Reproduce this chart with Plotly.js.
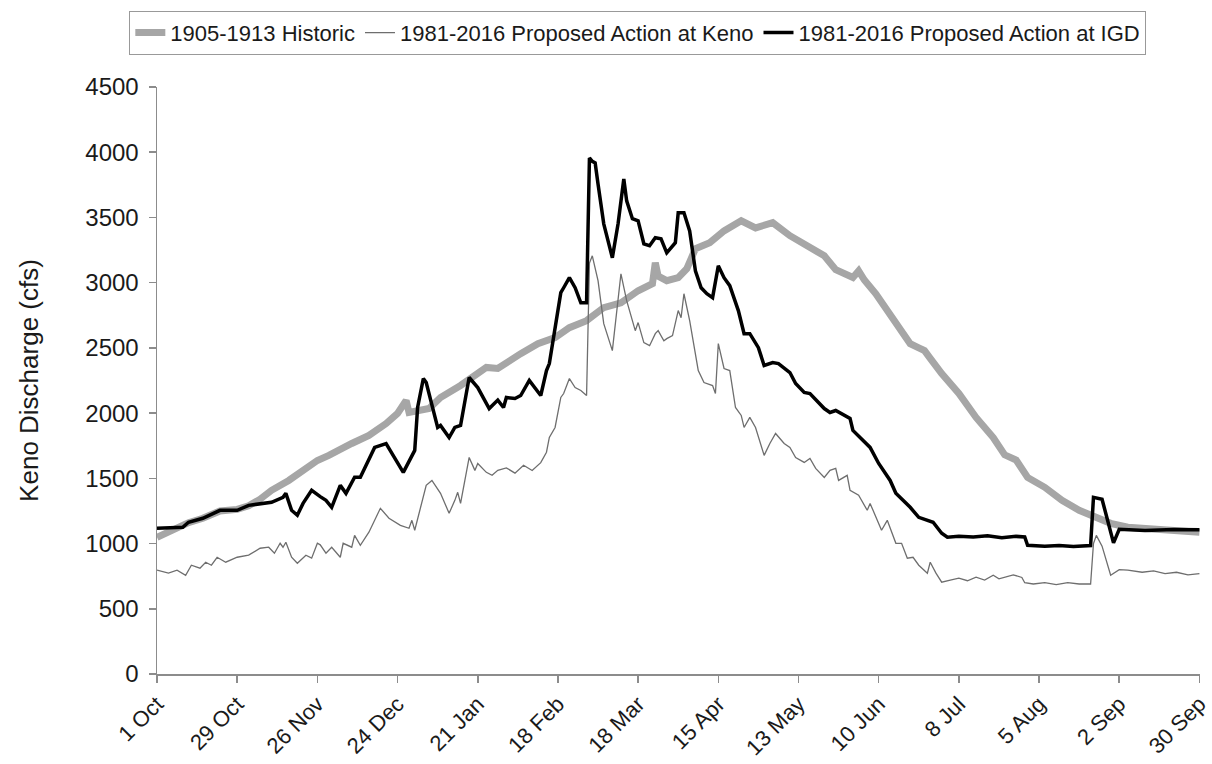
<!DOCTYPE html>
<html>
<head>
<meta charset="utf-8">
<script src="https://cdn.plot.ly/plotly-3.0.1.min.js"></script>
<style>
  html, body { margin: 0; padding: 0; background: #ffffff; }
  #chart { width: 1212px; height: 764px; }
</style>
</head>
<body>
<div id="chart"></div>
<script>
// Day of water year (0 = 1 Oct) for tick positions and labels
const tickDays = [0, 28, 56, 84, 112, 140, 168, 196, 224, 252, 280, 308, 336, 364];
const tickLabels = ["1 Oct", "29 Oct", "26 Nov", "24 Dec", "21 Jan", "18 Feb", "18 Mar",
                    "15 Apr", "13 May", "10 Jun", "8 Jul", "5 Aug", "2 Sep", "30 Sep"];

// 1905-1913 Historic
const historicDays = [0, 4, 11, 16, 22, 28, 32, 36, 40, 46, 51, 56, 60, 64, 68, 74, 80, 84, 87, 88,
  95, 99, 106, 115, 119, 127, 133, 139, 144, 150, 156, 162, 168, 173, 174, 175, 176, 178, 182, 185,
  188, 193, 198, 204, 209, 215, 221, 226, 233, 237, 243, 245, 247, 251, 257, 263, 266, 268, 270, 274,
  280, 286, 292, 296, 300, 304, 310, 316, 322, 328, 333, 339, 351, 364];
const historicCfs = [1048, 1087, 1160, 1194, 1250, 1262, 1290, 1340, 1408, 1484, 1561, 1637, 1676, 1729, 1767, 1829, 1920, 1997, 2097, 2005,
  2035, 2120, 2212, 2350, 2342, 2456, 2532, 2579, 2655, 2709, 2809, 2846, 2938, 2992, 3153, 3050, 3038, 3015, 3038, 3107,
  3260, 3306, 3397, 3474, 3420, 3460, 3360, 3297, 3206, 3100, 3040, 3090, 3020, 2915, 2732, 2532, 2500, 2479, 2420, 2303,
  2150, 1967, 1813, 1680, 1640, 1507, 1431, 1331, 1255, 1194, 1155, 1125, 1102, 1087];

// 1981-2016 Proposed Action at Keno
const kenoDays = [0, 4, 7, 10, 12, 15, 17, 19, 21, 24, 28, 32, 36, 39, 41, 43, 44, 45, 47, 49,
  52, 54, 56, 57, 59, 61, 64, 65, 68, 69, 71, 74, 78, 81, 85, 88, 89, 90, 94, 96,
  99, 102, 104, 105, 106, 109, 111, 112, 115, 117, 119, 122, 125, 128, 131, 134, 136, 137, 139, 141,
  142, 144, 146, 148, 150, 151, 152, 154, 156, 159, 162, 164, 167, 168, 170, 172, 174, 175, 177, 178,
  180, 182, 183, 184, 186, 188, 189, 191, 194, 195, 196, 198, 200, 202, 204, 205, 207, 209, 212, 214,
  216, 219, 221, 223, 226, 228, 230, 233, 235, 237, 238, 241, 242, 245, 248, 249, 253, 255, 258, 260,
  262, 264, 266, 269, 270, 272, 274, 277, 280, 283, 286, 289, 292, 294, 296, 299, 302, 303, 306, 310,
  314, 318, 322, 326, 327, 328, 330, 333, 336, 339, 344, 348, 352, 356, 360, 364];
const kenoCfs = [796, 773, 796, 757, 834, 811, 857, 834, 895, 857, 895, 911, 964, 972, 926, 1002, 972, 1010, 895, 849,
  911, 888, 1002, 990, 926, 972, 895, 1002, 972, 1063, 987, 1087, 1270, 1194, 1140, 1117, 1178, 1102, 1446, 1484,
  1385, 1232, 1331, 1393, 1308, 1660, 1561, 1614, 1546, 1523, 1561, 1580, 1540, 1600, 1560, 1620, 1700, 1813, 1890, 2120,
  2150, 2265, 2196, 2173, 2135, 3150, 3206, 3015, 2686, 2479, 3068, 2862, 2632, 2694, 2540, 2517, 2609, 2632, 2555, 2571,
  2594, 2786, 2732, 2915, 2709, 2464, 2326, 2234, 2211, 2150, 2533, 2342, 2326, 2043, 1982, 1890, 1967, 1890, 1676, 1767,
  1844, 1767, 1737, 1660, 1622, 1653, 1576, 1507, 1561, 1576, 1484, 1523, 1408, 1370, 1255, 1308, 1102, 1178, 1002, 1002,
  888, 895, 834, 773, 857, 773, 704, 720, 735, 715, 742, 720, 757, 730, 742, 760, 740, 700, 690, 700,
  685, 700, 690, 690, 1000, 1063, 980, 757, 800, 796, 780, 790, 770, 780, 760, 770];

// 1981-2016 Proposed Action at IGD
const igdDays = [0, 9, 11, 16, 22, 28, 32, 40, 44, 45, 47, 49, 51, 54, 57, 59, 61, 64, 66, 69,
  71, 76, 80, 82, 86, 90, 91, 93, 94, 98, 99, 102, 104, 106, 109, 112, 116, 119, 121, 122,
  125, 127, 130, 134, 136, 137, 139, 141, 142, 144, 146, 148, 150, 151, 152, 153, 154, 156, 159, 161,
  163, 164, 166, 168, 170, 172, 174, 176, 178, 181, 182, 184, 186, 188, 190, 192, 194, 196, 198, 200,
  203, 205, 207, 210, 212, 215, 217, 221, 223, 226, 228, 233, 235, 237, 242, 243, 249, 252, 256, 258,
  263, 266, 271, 274, 276, 280, 285, 290, 295, 300, 303, 304, 310, 315, 320, 326, 327, 330, 334, 336,
  345, 355, 364];
const igdCfs = [1117, 1125, 1163, 1194, 1255, 1255, 1293, 1316, 1354, 1385, 1255, 1217, 1308, 1408, 1360, 1331, 1278, 1446, 1385, 1508,
  1508, 1737, 1767, 1691, 1546, 1714, 2043, 2265, 2234, 1890, 1905, 1813, 1890, 1905, 2273, 2196, 2035, 2100, 2043, 2120,
  2112, 2135, 2250, 2135, 2326, 2380, 2655, 2923, 2961, 3038, 2961, 2846, 2846, 3956, 3930, 3918, 3757, 3451, 3191, 3451,
  3795, 3627, 3490, 3474, 3298, 3283, 3344, 3336, 3229, 3306, 3536, 3536, 3397, 3091, 2961, 2915, 2885, 3130, 3038, 2977,
  2786, 2609, 2609, 2502, 2365, 2388, 2380, 2311, 2227, 2158, 2150, 2035, 2005, 2020, 1959, 1867, 1737, 1614, 1484, 1385,
  1278, 1201, 1163, 1079, 1048, 1056, 1050, 1060, 1045, 1055, 1050, 987, 980, 985, 978, 985, 1354, 1340, 1005, 1110,
  1100, 1108, 1105];

const seriesNames = ["1905-1913 Historic", "1981-2016 Proposed Action at Keno", "1981-2016 Proposed Action at IGD"];

const FONT = "Arial, 'Liberation Sans', sans-serif";
const AXIS_GRAY = "#8c8c8c";

const traces = [
  { x: historicDays, y: historicCfs, name: seriesNames[0], type: "scatter", mode: "lines",
    line: { color: "#a6a6a6", width: 7 } },
  { x: kenoDays, y: kenoCfs, name: seriesNames[1], type: "scatter", mode: "lines",
    line: { color: "#6e6e6e", width: 1.3 } },
  { x: igdDays, y: igdCfs, name: seriesNames[2], type: "scatter", mode: "lines",
    line: { color: "#000000", width: 3.5 } }
];

const layout = {
  width: 1212, height: 764,
  margin: { l: 157, r: 12, t: 86, b: 90 },
  paper_bgcolor: "#ffffff", plot_bgcolor: "#ffffff",
  font: { family: FONT, color: "#1a1a1a", size: 22 },
  showlegend: true,
  legend: {
    orientation: "h", x: 0.461, xanchor: "center", y: 1.128, yanchor: "top",
    bordercolor: "#999999", borderwidth: 1, bgcolor: "#ffffff",
    font: { family: FONT, size: 22, color: "#1a1a1a" },
    itemwidth: 30, tracegroupgap: 0
  },
  xaxis: {
    range: [0, 364.2], tickmode: "array", tickvals: tickDays, ticktext: tickLabels,
    tickangle: -45, showgrid: false, zeroline: false,
    showline: true, linecolor: AXIS_GRAY, linewidth: 1.5,
    ticks: "outside", ticklen: 7, tickcolor: AXIS_GRAY, tickwidth: 1.5,
    ticklabeloverflow: "allow",
    tickfont: { family: FONT, size: 22, color: "#1a1a1a" }
  },
  yaxis: {
    range: [0, 4500], dtick: 500, tick0: 0, showgrid: false, zeroline: false,
    showline: true, linecolor: AXIS_GRAY, linewidth: 1.5,
    ticks: "outside", ticklen: 7, tickcolor: AXIS_GRAY, tickwidth: 1.5,
    ticklabelstandoff: 5,
    tickfont: { family: FONT, size: 24, color: "#1a1a1a" },
    title: { text: "Keno Discharge (cfs)", font: { family: FONT, size: 26, color: "#1a1a1a" }, standoff: 39 }
  }
};

Plotly.newPlot("chart", traces, layout, { displayModeBar: false, staticPlot: true });
</script>
</body>
</html>
